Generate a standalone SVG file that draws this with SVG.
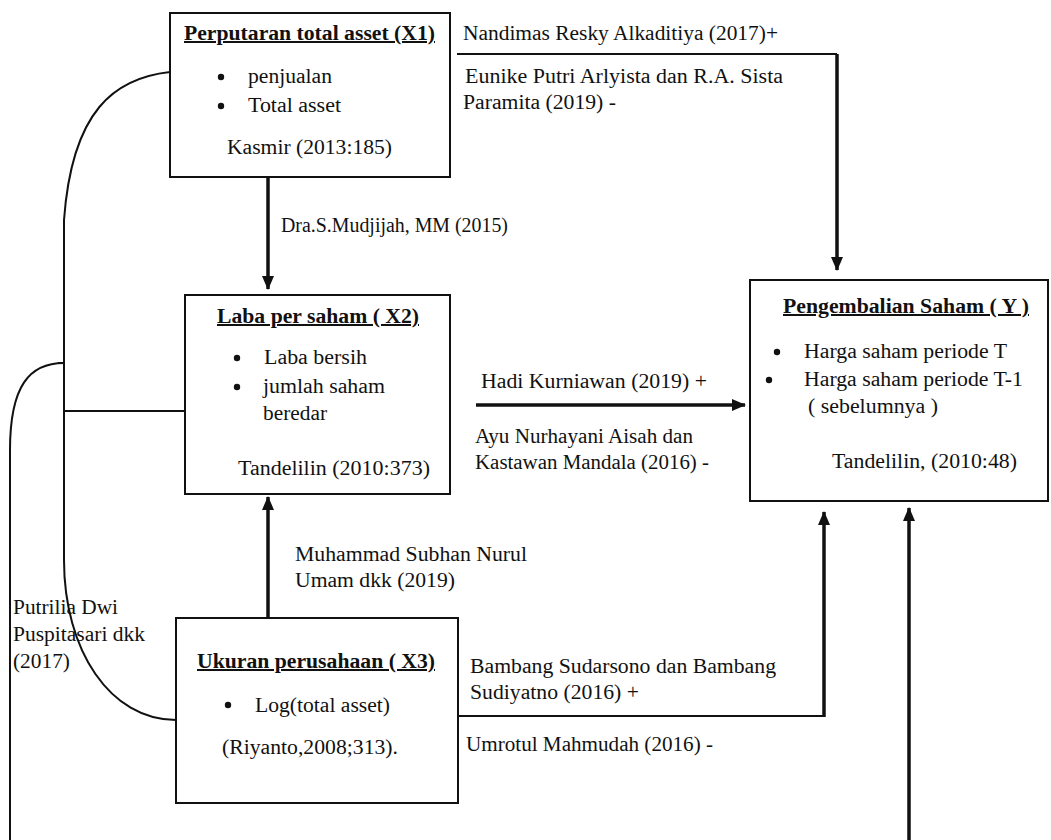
<svg xmlns="http://www.w3.org/2000/svg" width="1051" height="840" viewBox="0 0 1051 840" font-family="Liberation Serif, serif" font-size="20" fill="#111">
<defs>
<marker id="ah" markerUnits="userSpaceOnUse" markerWidth="14" markerHeight="14" viewBox="0 0 14 14" refX="13" refY="7" orient="auto">
<path d="M0,1 L14,7 L0,13 Z" fill="#111"/>
</marker>
</defs>
<g id="connectors">
<g fill="none" stroke="#111" stroke-width="2">
<path d="M170,72 C115,78 72,110 64,220 L64,560 C64,650 110,720 176,720"/>
<path d="M64,411 L185,411"/>
<path d="M58,363 L64,363 M64,363 C30,363 10,385 10,450 L10,840"/>
<path d="M457,54 L837,54"/>
<path d="M458,716 L824,716"/>
</g>
<g fill="none" stroke="#111" stroke-width="3.5" marker-end="url(#ah)">
<path d="M837,54 L837,270"/>
<path d="M268,177 L268,289"/>
<path d="M476,405 L745,405"/>
<path d="M268,617 L268,497"/>
<path d="M824,717 L824,512"/>
<path d="M909,840 L909,508"/>
</g>
<g lengthAdjust="spacingAndGlyphs">
<text x="463" y="40" textLength="315" lengthAdjust="spacingAndGlyphs">Nandimas Resky Alkaditiya (2017)+</text>
<text x="465" y="83" textLength="318" lengthAdjust="spacingAndGlyphs">Eunike Putri Arlyista dan R.A. Sista</text>
<text x="463" y="109" textLength="153" lengthAdjust="spacingAndGlyphs">Paramita (2019) -</text>
<text x="281" y="232" textLength="227" lengthAdjust="spacingAndGlyphs">Dra.S.Mudjijah, MM (2015)</text>
<text x="481" y="388" textLength="226" lengthAdjust="spacingAndGlyphs">Hadi Kurniawan (2019) +</text>
<text x="475" y="443" textLength="218" lengthAdjust="spacingAndGlyphs">Ayu Nurhayani Aisah dan</text>
<text x="475" y="469" textLength="234" lengthAdjust="spacingAndGlyphs">Kastawan Mandala (2016) -</text>
<text x="295" y="561" textLength="232" lengthAdjust="spacingAndGlyphs">Muhammad Subhan Nurul</text>
<text x="295" y="587" textLength="160" lengthAdjust="spacingAndGlyphs">Umam dkk (2019)</text>
<text x="13" y="614" textLength="105" lengthAdjust="spacingAndGlyphs">Putrilia Dwi</text>
<text x="13" y="641" textLength="132" lengthAdjust="spacingAndGlyphs">Puspitasari dkk</text>
<text x="13" y="668" textLength="57" lengthAdjust="spacingAndGlyphs">(2017)</text>
<text x="470" y="673" textLength="306" lengthAdjust="spacingAndGlyphs">Bambang Sudarsono dan Bambang</text>
<text x="470" y="699" textLength="169" lengthAdjust="spacingAndGlyphs">Sudiyatno (2016) +</text>
<text x="466" y="751" textLength="247" lengthAdjust="spacingAndGlyphs">Umrotul Mahmudah (2016) -</text>
</g>
</g>
<g id="x1">
<rect x="170" y="13" width="280" height="164" fill="#fff" stroke="#111" stroke-width="2"/>
<text x="184" y="40" font-weight="bold" text-decoration="underline" textLength="251" lengthAdjust="spacingAndGlyphs">Perputaran total asset (X1)</text>
<circle cx="221" cy="77" r="3.2"/>
<text x="248" y="83" textLength="84" lengthAdjust="spacingAndGlyphs">penjualan</text>
<circle cx="221" cy="106" r="3.2"/>
<text x="248" y="112" textLength="93" lengthAdjust="spacingAndGlyphs">Total asset</text>
<text x="227" y="154" textLength="165" lengthAdjust="spacingAndGlyphs">Kasmir (2013:185)</text>
</g>
<g id="x2">
<rect x="185" y="295" width="265" height="199" fill="#fff" stroke="#111" stroke-width="2"/>
<text x="217" y="323" font-weight="bold" text-decoration="underline" textLength="202" lengthAdjust="spacingAndGlyphs">Laba per saham ( X2)</text>
<circle cx="237" cy="358" r="3.2"/>
<text x="264" y="364" textLength="103" lengthAdjust="spacingAndGlyphs">Laba bersih</text>
<circle cx="237" cy="387" r="3.2"/>
<text x="263" y="393" textLength="122" lengthAdjust="spacingAndGlyphs">jumlah saham</text>
<text x="263" y="420" textLength="64" lengthAdjust="spacingAndGlyphs">beredar</text>
<text x="238" y="475" textLength="192" lengthAdjust="spacingAndGlyphs">Tandelilin (2010:373)</text>
</g>
<g id="x3">
<rect x="176" y="618" width="282" height="185" fill="#fff" stroke="#111" stroke-width="2"/>
<text x="197" y="668" font-weight="bold" text-decoration="underline" textLength="238" lengthAdjust="spacingAndGlyphs">Ukuran perusahaan ( X3)</text>
<circle cx="228" cy="705" r="3.2"/>
<text x="255" y="712" textLength="135" lengthAdjust="spacingAndGlyphs">Log(total asset)</text>
<text x="222" y="754" textLength="176" lengthAdjust="spacingAndGlyphs">(Riyanto,2008;313).</text>
</g>
<g id="y">
<rect x="750" y="280" width="298" height="221" fill="#fff" stroke="#111" stroke-width="2"/>
<text x="783" y="313" font-weight="bold" text-decoration="underline" textLength="246" lengthAdjust="spacingAndGlyphs">Pengembalian Saham ( Y )</text>
<circle cx="777" cy="352" r="3.2"/>
<text x="804" y="358" textLength="203" lengthAdjust="spacingAndGlyphs">Harga saham periode T</text>
<circle cx="769" cy="380" r="3.2"/>
<text x="804" y="386" textLength="219" lengthAdjust="spacingAndGlyphs">Harga saham periode T-1</text>
<text x="808" y="413" textLength="130" lengthAdjust="spacingAndGlyphs">( sebelumnya )</text>
<text x="832" y="468" textLength="185" lengthAdjust="spacingAndGlyphs">Tandelilin, (2010:48)</text>
</g>
</svg>
